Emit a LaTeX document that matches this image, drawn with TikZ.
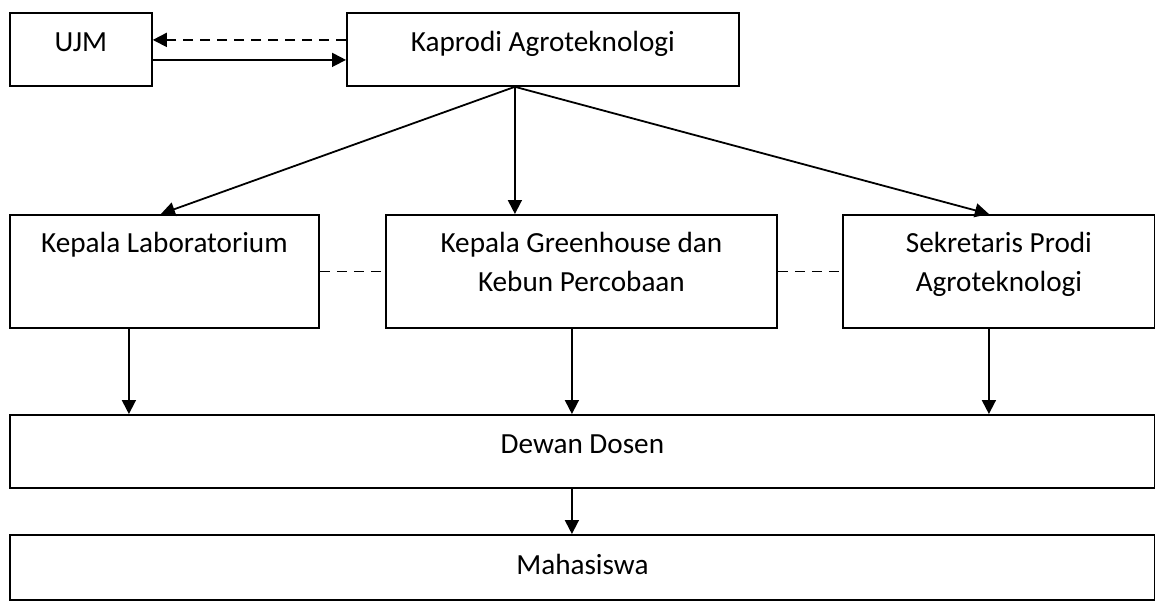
\documentclass[tikz,border=0pt]{standalone}
\usepackage{fontspec}
\setmainfont{Carlito}
\usetikzlibrary{arrows.meta}
\usetikzlibrary{positioning}

\begin{document}
\begin{tikzpicture}[x=0.5pt,y=-0.5pt,
  box/.style={draw, line width=0.9pt, anchor=north west, inner sep=0pt},
  boxtext/.style={anchor=north, align=center, inner sep=0pt, font=\fontsize{14.6}{19.5}\selectfont},
  arr/.style={line width=0.9pt, -{Triangle[length=7pt,width=7pt]}},
  link/.style={line width=0.9pt, dash pattern=on 5pt off 3.5pt}]
  \useasboundingbox (0,0) rectangle (1155,600);

  %top row
  \node[box, minimum width=71pt, minimum height=36.5pt] (ujm) at (9,12) {};
  \node[boxtext, below=10pt of ujm.north] (ujmtext) {UJM};
  \node[box, minimum width=196pt, minimum height=36.5pt] (kaprodi) at (346,12) {};
  \node[boxtext, below=9.5pt of kaprodi.north] (kaproditext) {Kaprodi Agroteknologi};

  %middle row
  \node[box, minimum width=154.5pt, minimum height=56.5pt] (lab) at (9,214) {};
  \node[boxtext, below=9pt of lab.north] (labtext) {Kepala Laboratorium};
  \node[box, minimum width=195.5pt, minimum height=56.5pt] (greenhouse) at (385,214) {};
  \node[boxtext, below=9pt of greenhouse.north] (greenhousetext) {Kepala Greenhouse dan\\Kebun Percobaan};
  \node[box, minimum width=156pt, minimum height=56.5pt] (sekprodi) at (842,214) {};
  \node[boxtext, below=9pt of sekprodi.north] (sekproditext) {Sekretaris Prodi\\Agroteknologi};

  %bottom rows
  \node[box, minimum width=572.5pt, minimum height=36.5pt] (dewan) at (9,414) {};
  \node[boxtext, below=10pt of dewan.north] (dewantext) {Dewan Dosen};
  \node[box, minimum width=572.5pt, minimum height=32.5pt] (mhs) at (9,534) {};
  \node[boxtext, below=10pt of mhs.north] (mhstext) {Mahasiswa};

  %UJM and Kaprodi
  \draw[link, -{Triangle[length=7pt,width=7pt]}] ([yshift=4.75pt]kaprodi.west) -- ([yshift=4.75pt]ujm.east);
  \draw[arr] ([yshift=-5.25pt]ujm.east) -- ([yshift=-5.25pt]kaprodi.west);

  %from Kaprodi down
  \coordinate (fork) at ([xshift=-14pt]kaprodi.south);
  \draw[arr] (fork) -- ([xshift=-1.75pt]lab.north);
  \draw[arr] (fork) -- (fork |- greenhouse.north);
  \draw[arr] (fork) -- ([xshift=-5pt]sekprodi.north);

  %dashed links
  \draw[link] (lab) -- (greenhouse);
  \draw[link] (greenhouse) -- (sekprodi);

  %to Dewan Dosen
  \draw[arr] ([xshift=-17.75pt]lab.south) -- ([xshift=-17.75pt]lab.south |- dewan.north);
  \draw[arr] ([xshift=-4.75pt]greenhouse.south) -- ([xshift=-4.75pt]greenhouse.south |- dewan.north);
  \draw[arr] ([xshift=-5pt]sekprodi.south) -- ([xshift=-5pt]sekprodi.south |- dewan.north);
  \draw[arr] ([xshift=-4.75pt]greenhouse.south |- dewan.south) -- ([xshift=-4.75pt]greenhouse.south |- mhs.north);
\end{tikzpicture}
\end{document}
